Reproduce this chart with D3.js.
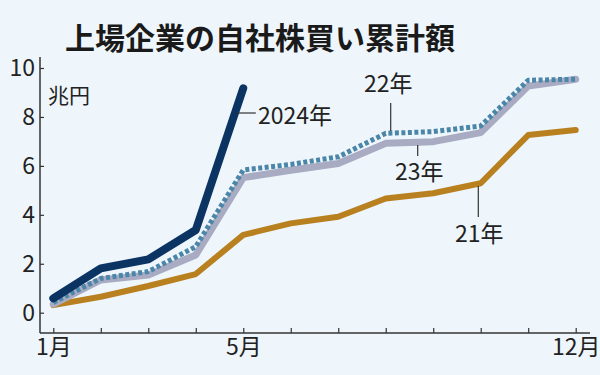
<!DOCTYPE html>
<html>
<head>
<meta charset="utf-8">
<script src="https://cdn.jsdelivr.net/npm/d3@7"></script>
<style>
  html, body { margin: 0; padding: 0; background: #eef6fc; }
  svg { display: block; }
  .num { font-family: "Liberation Sans Narrow", "Noto Sans CJK JP", sans-serif; }
</style>
</head>
<body>
<div id="chart"></div>
<script>
// months on the x axis
const months = [1, 2, 3, 4, 5, 6, 7, 8, 9, 10, 11, 12];
const monthLabels = { 1: '1月', 5: '5月', 12: '12月' };
const yTicks = [0, 2, 4, 6, 8, 10];

// cumulative buybacks, trillion yen
const y2021 = [0.31, 0.65, 1.09, 1.58, 3.18, 3.65, 3.92, 4.67, 4.88, 5.29, 7.26, 7.47];
const y2022 = [0.42, 1.40, 1.68, 2.70, 5.83, 6.06, 6.37, 7.33, 7.40, 7.63, 9.50, 9.54];
const y2023 = [0.35, 1.34, 1.54, 2.36, 5.52, 5.82, 6.10, 6.92, 6.99, 7.36, 9.26, 9.54];
const y2024 = [0.59, 1.81, 2.18, 3.38, 9.17];

const width = 600, height = 375;

const svg = d3.select('#chart')
  .append('svg')
  .attr('width', width)
  .attr('height', height);

svg.append('rect').attr('width', width).attr('height', height).attr('fill', '#eef6fc');

// title
svg.append('text')
  .attr('x', 260)
  .attr('y', 49)
  .attr('text-anchor', 'middle')
  .style('font-family', '"Noto Sans CJK JP", sans-serif')
  .style('font-weight', 700)
  .style('font-size', '30px')
  .style('fill', '#1a1a1a')
  .text('上場企業の自社株買い累計額');

const x = d3.scaleLinear().domain([1, 12]).range([53.3, 575.7]);
const y = d3.scaleLinear().domain([0, 10]).range([312.7, 68]);

const axisColor = '#333';

// y axis
const yAxis = svg.append('g')
  .attr('transform', 'translate(40,0)')
  .call(d3.axisLeft(y).tickValues(yTicks).tickSize(-4).tickPadding(5));
yAxis.select('.domain').remove();
yAxis.selectAll('line').attr('stroke', axisColor).attr('stroke-width', 1.2);
yAxis.selectAll('text')
  .attr('class', 'num')
  .style('font-size', '23px')
  .style('fill', '#222');

// x axis
const xAxis = svg.append('g')
  .attr('transform', 'translate(0,333)')
  .call(d3.axisBottom(x).tickValues(months).tickSize(-5).tickPadding(6)
    .tickFormat(d => monthLabels[d] || ''));
xAxis.select('.domain').remove();
xAxis.selectAll('line').attr('stroke', axisColor).attr('stroke-width', 1.2);
xAxis.selectAll('text')
  .attr('class', 'num')
  .style('font-size', '23px')
  .style('fill', '#222');

// axis lines
svg.append('line').attr('x1', 40).attr('x2', 40).attr('y1', 57).attr('y2', 333)
  .attr('stroke', axisColor).attr('stroke-width', 1.5);
svg.append('line').attr('x1', 40).attr('x2', 590).attr('y1', 333).attr('y2', 333)
  .attr('stroke', axisColor).attr('stroke-width', 1.5);

// unit
svg.append('text')
  .attr('x', 48)
  .attr('y', 103)
  .style('font-family', '"Noto Sans CJK JP", sans-serif')
  .style('font-size', '21px')
  .style('fill', '#222')
  .text('兆円');

const line = d3.line()
  .x((d, i) => x(months[i]))
  .y(d => y(d));

const series = [
  { values: y2021, color: '#b8801f', width: 6, dash: null },
  { values: y2023, color: '#a8abc2', width: 7, dash: null },
  { values: y2022, color: '#4b86a9', width: 5, dash: '4,2.5' },
  { values: y2024, color: '#0b3463', width: 8, dash: null }
];

svg.selectAll('path.series')
  .data(series)
  .enter()
  .append('path')
  .attr('class', 'series')
  .attr('d', d => line(d.values))
  .attr('fill', 'none')
  .attr('stroke', d => d.color)
  .attr('stroke-width', d => d.width)
  .attr('stroke-dasharray', d => d.dash)
  .attr('stroke-linejoin', 'round')
  .attr('stroke-linecap', d => d.dash ? 'butt' : 'round');

// labels with leader lines
const labels = [
  { text: '2024年', x: 258, y: 124, lx1: 237, ly1: 113, lx2: 256, ly2: 113 },
  { text: '22年', x: 364, y: 92, lx1: 390.7, ly1: 103, lx2: 390.7, ly2: 131 },
  { text: '23年', x: 395, y: 180, lx1: 417.7, ly1: 145, lx2: 417.7, ly2: 156 },
  { text: '21年', x: 455, y: 242, lx1: 478.3, ly1: 186, lx2: 478.3, ly2: 217 }
];

svg.selectAll('line.leader')
  .data(labels)
  .enter()
  .append('line')
  .attr('class', 'leader')
  .attr('x1', d => d.lx1).attr('y1', d => d.ly1)
  .attr('x2', d => d.lx2).attr('y2', d => d.ly2)
  .attr('stroke', '#333')
  .attr('stroke-width', 1.2);

svg.selectAll('text.lab')
  .data(labels)
  .enter()
  .append('text')
  .attr('class', 'lab num')
  .attr('x', d => d.x)
  .attr('y', d => d.y)
  .style('font-size', '23px')
  .style('fill', '#222')
  .text(d => d.text);
</script>
</body>
</html>
